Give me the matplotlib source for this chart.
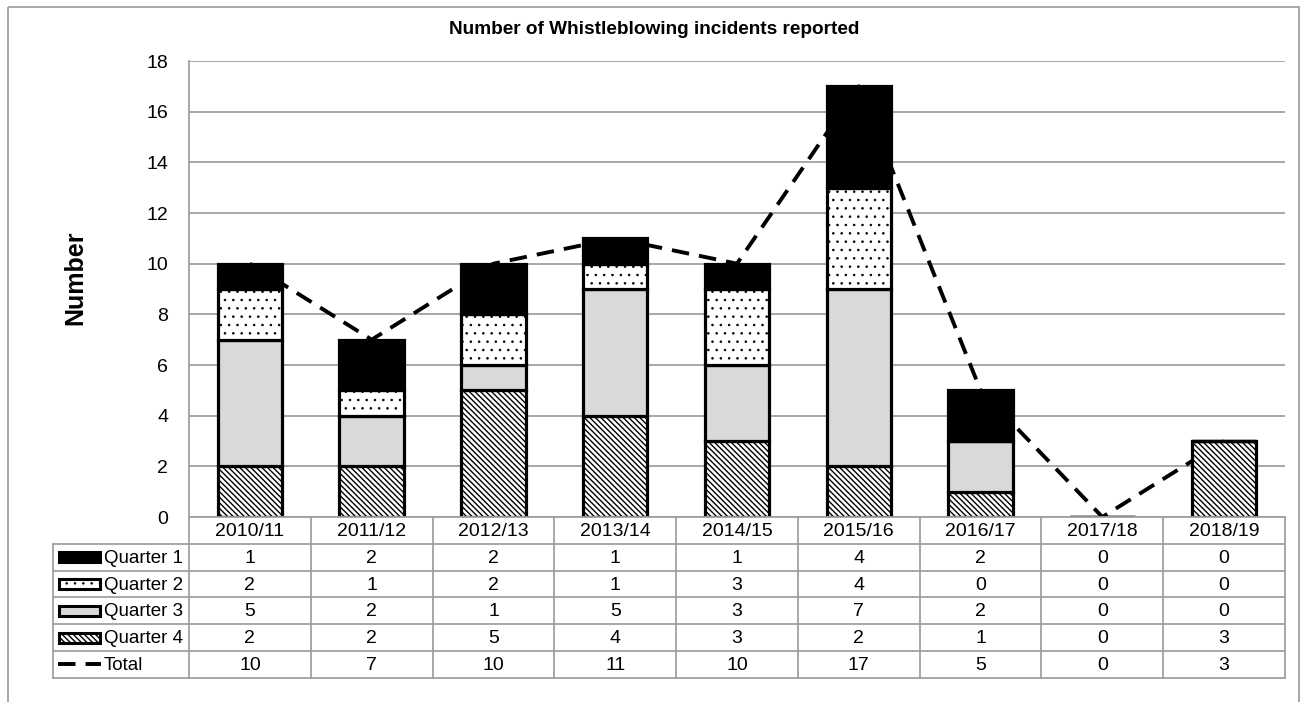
import matplotlib
matplotlib.use("Agg")
import matplotlib.pyplot as plt
from matplotlib.patches import Rectangle
from matplotlib.lines import Line2D

plt.rcParams['font.family'] = ['Liberation Sans', 'DejaVu Sans']
plt.rcParams['hatch.linewidth'] = 1.0

years = ["2010/11", "2011/12", "2012/13", "2013/14", "2014/15",
         "2015/16", "2016/17", "2017/18", "2018/19"]
quarter1 = [1, 2, 2, 1, 1, 4, 2, 0, 0]
quarter2 = [2, 1, 2, 1, 3, 4, 0, 0, 0]
quarter3 = [5, 2, 1, 5, 3, 7, 2, 0, 0]
quarter4 = [2, 2, 5, 4, 3, 2, 1, 0, 3]
totals = [10, 7, 10, 11, 10, 17, 5, 0, 3]
yticks = list(range(0, 19, 2))

BS = chr(92)
DIAG = BS * 6
DOTS = ".."

W, H = 1304, 702
fig = plt.figure(figsize=(W / 100, H / 100), dpi=100)
fig.patch.set_facecolor("white")

# plot area in pixel terms
L, R, T, B = 189, 1285, 61, 517
ax = fig.add_axes([L / W, 1 - B / H, (R - L) / W, (B - T) / H])

grid_col = "#a0a0a0"
styles = {
    "Quarter 1": dict(facecolor="black", hatch=None),
    "Quarter 2": dict(facecolor="white", hatch=DOTS),
    "Quarter 3": dict(facecolor="#d9d9d9", hatch=None),
    "Quarter 4": dict(facecolor="white", hatch=DIAG),
}
stack = [("Quarter 4", quarter4), ("Quarter 3", quarter3),
         ("Quarter 2", quarter2), ("Quarter 1", quarter1)]


def thin_dots(patches, name):
    if name == "Quarter 2":
        for p in patches:
            try:
                p.set_hatch_linewidth(0.6)
            except AttributeError:
                pass


x = list(range(len(years)))
bottom = [0] * len(years)
for name, vals in stack:
    bars = ax.bar(x, vals, bottom=bottom, width=0.53, edgecolor="black",
                  linewidth=2.3, zorder=3, **styles[name])
    thin_dots(bars, name)
    bottom = [b + v for b, v in zip(bottom, vals)]

ax.plot(x, totals, color="black", linewidth=2.8, linestyle=(0, (4.5, 2.6)),
        zorder=2, dash_capstyle="butt")

ax.set_xlim(-0.5, len(years) - 0.5)
ax.set_ylim(0, 18)
ax.set_yticks(yticks)
ax.set_xticks([])
ax.yaxis.grid(True, color=grid_col, linewidth=1.3, zorder=0)
ax.set_axisbelow(True)
for s in ["top", "right", "bottom"]:
    ax.spines[s].set_visible(False)
ax.spines["left"].set_color(grid_col)
ax.spines["left"].set_linewidth(1.3)
ax.tick_params(axis="y", length=0, pad=15, labelsize=14, colors="black")

# overlay in pixel coordinates for title, label, table and frame
ov = fig.add_axes([0, 0, 1, 1])
ov.set_xlim(0, W)
ov.set_ylim(H, 0)
ov.axis("off")
ov.patch.set_visible(False)

ov.add_patch(Rectangle((8, 7), 1291, 720, fill=False, edgecolor=grid_col,
                       linewidth=1.3, clip_on=False))

ov.text(654, 30, "Number of Whistleblowing incidents reported", ha="center",
        va="center", fontsize=13.7, fontweight="bold")
ov.text(75, 278, "Number", ha="center", va="center", rotation=90,
        fontsize=18, fontweight="bold")

# data table
tl = 53
colw = (R - L) / len(years)
rh = 26.8
rows_top = [B + rh * k for k in range(7)]
lw = 1.3
ov.plot([L, R], [B, B], color=grid_col, lw=lw)
for k in range(1, 7):
    ov.plot([tl, R], [rows_top[k], rows_top[k]], color=grid_col, lw=lw)
ov.plot([tl, tl], [rows_top[1], rows_top[6]], color=grid_col, lw=lw)
for i in range(len(years) + 1):
    xx = L + colw * i
    ov.plot([xx, xx], [B, rows_top[6]], color=grid_col, lw=lw)

for i, yr in enumerate(years):
    ov.text(L + colw * (i + 0.5), B + rh / 2 + 1, yr, ha="center",
            va="center", fontsize=14)

row_names = ["Quarter 1", "Quarter 2", "Quarter 3", "Quarter 4", "Total"]
row_vals = [quarter1, quarter2, quarter3, quarter4, totals]
for r, (name, vals) in enumerate(zip(row_names, row_vals)):
    yc = rows_top[r + 1] + rh / 2
    if name in styles:
        g = Rectangle((59, yc - 5), 41, 10, edgecolor="black",
                      linewidth=2.2, **styles[name])
        ov.add_patch(g)
        thin_dots([g], name)
    else:
        ov.add_line(Line2D([58, 101], [yc, yc], color="black", linewidth=2.8,
                           linestyle=(0, (4.5, 2.6))))
    ov.text(104, yc + 1, name, ha="left", va="center", fontsize=13.5)
    for i, v in enumerate(vals):
        ov.text(L + colw * (i + 0.5), yc + 1, str(v), ha="center",
                va="center", fontsize=14)

fig.savefig("out.png", dpi=100)
